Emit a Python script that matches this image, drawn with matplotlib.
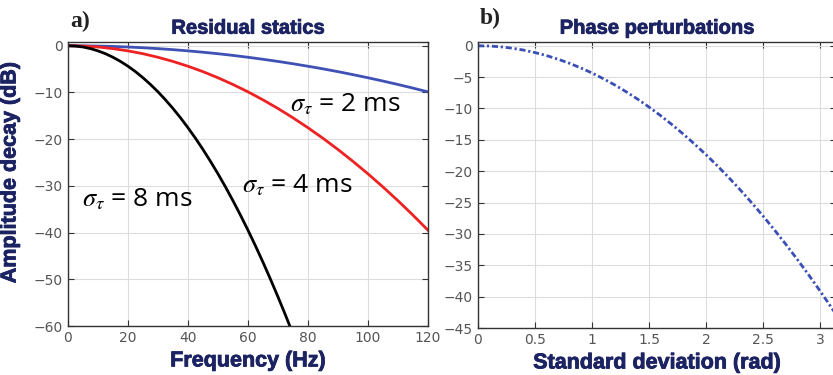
import matplotlib
matplotlib.use("Agg")
import matplotlib.pyplot as plt
import matplotlib.patheffects as pe

plt.rcParams['mathtext.fontset'] = 'stix'

# ---- data ----
freq = [0, 5, 10, 15, 20, 25, 30, 35, 40, 45, 50, 55, 60, 65, 70, 75, 80, 85, 90, 95, 100, 105, 110, 115, 120]
decay_2ms = [0, -0.02, -0.07, -0.15, -0.27, -0.43, -0.62, -0.84, -1.10, -1.39, -1.71, -2.07, -2.47, -2.90,
             -3.36, -3.86, -4.39, -4.95, -5.55, -6.19, -6.86, -7.56, -8.30, -9.07, -9.88]
decay_4ms = [0, -0.07, -0.27, -0.62, -1.10, -1.71, -2.47, -3.36, -4.39, -5.55, -6.86, -8.30, -9.87, -11.59,
             -13.44, -15.43, -17.56, -19.82, -22.22, -24.76, -27.43, -30.24, -33.19, -36.28, -39.50]
freq_8ms = [0, 2.5, 5, 7.5, 10, 12.5, 15, 17.5, 20, 22.5, 25, 27.5, 30, 32.5, 35, 37.5, 40, 42.5, 45, 47.5,
            50, 52.5, 55, 57.5, 60, 62.5, 65, 67.5, 70, 72.5, 75]
decay_8ms = [0, -0.07, -0.27, -0.62, -1.10, -1.71, -2.47, -3.36, -4.39, -5.55, -6.86, -8.30, -9.87, -11.59,
             -13.44, -15.43, -17.56, -19.82, -22.22, -24.76, -27.43, -30.24, -33.19, -36.28, -39.50, -42.86,
             -46.36, -50.00, -53.77, -57.68, -61.72]

sigma_rad = [0, 0.1, 0.2, 0.3, 0.4, 0.5, 0.6, 0.7, 0.8, 0.9, 1.0, 1.1, 1.2, 1.3, 1.4, 1.5, 1.6, 1.7, 1.8, 1.9,
             2.0, 2.1, 2.2, 2.3, 2.4, 2.5, 2.6, 2.7, 2.8, 2.9, 3.0, 3.1, 3.14]
decay_phase = [0, -0.04, -0.17, -0.39, -0.69, -1.09, -1.56, -2.13, -2.78, -3.52, -4.34, -5.26, -6.25, -7.34,
               -8.51, -9.77, -11.12, -12.55, -14.07, -15.68, -17.37, -19.15, -21.02, -22.97, -25.02, -27.14,
               -29.36, -31.66, -34.05, -36.52, -39.09, -41.74, -42.82]

left_xticks = [0, 20, 40, 60, 80, 100, 120]
left_yticks = [0, -10, -20, -30, -40, -50, -60]
right_xticks = [0, 0.5, 1, 1.5, 2, 2.5, 3]
right_xticklabels = ['0', '0.5', '1', '1.5', '2', '2.5', '3']
right_yticks = [0, -5, -10, -15, -20, -25, -30, -35, -40, -45]

navy = '#1c2362'
tickcol = '#555555'
heavy = [pe.withStroke(linewidth=0.6, foreground=navy)]

fig = plt.figure(figsize=(8.33, 3.75), dpi=100)
ax1 = fig.add_axes([68/833, 49/375, 360/833, 284/375])
ax2 = fig.add_axes([478/833, 47/375, 358/833, 286/375])


def style(ax):
    ax.grid(True, color='#dddddd', linewidth=0.8)
    ax.set_axisbelow(True)
    for s in ax.spines.values():
        s.set_color('#333333')
        s.set_linewidth(1.0)
    ax.tick_params(direction='in', top=True, right=True, colors='#333333', labelcolor=tickcol,
                   labelsize=10, length=4, width=0.8)


lab_kw = dict(fontsize=15.5, fontweight='heavy', color=navy, family='Liberation Sans', path_effects=heavy)
tit_kw = dict(fontsize=14.5, fontweight='heavy', color=navy, family='Liberation Sans', path_effects=heavy)

ax1.plot(freq, decay_2ms, color='#3f51b5', lw=2)
ax1.plot(freq, decay_4ms, color='#ee2222', lw=2)
ax1.plot(freq_8ms, decay_8ms, color='black', lw=2)
ax1.set_xlim(0, 120)
ax1.set_ylim(-60, 0.8)
ax1.set_xticks(left_xticks)
ax1.set_yticks(left_yticks)
ax1.set_yticklabels([f'{v:d}'.replace('-', '\u2212') for v in left_yticks])
style(ax1)
ax1.set_xlabel('Frequency (Hz)', labelpad=4, **lab_kw)
ax1.set_ylabel('Amplitude decay (dB)', labelpad=4, **lab_kw)
ax1.yaxis.set_label_coords(-0.132, 0.54)
ax1.set_title('Residual statics', pad=6, **tit_kw)

txt_kw = dict(fontsize=19, color='black', family='Open Sans', va='center', ha='left')
ax1.text(74, -12.5, r'$\sigma_{\tau}$ = 2 ms', **txt_kw)
ax1.text(58, -30.0, r'$\sigma_{\tau}$ = 4 ms', **txt_kw)
ax1.text(4.5, -33.0, r'$\sigma_{\tau}$ = 8 ms', **txt_kw)

ax2.plot(sigma_rad, decay_phase, color='#3a4fb5', lw=2.0, linestyle=(0, (2.2, 1.0, 0.8, 1.0)))
ax2.set_xlim(0, 3.14)
ax2.set_ylim(-45, 0.6)
ax2.set_xticks(right_xticks)
ax2.set_xticklabels(right_xticklabels)
ax2.set_yticks(right_yticks)
ax2.set_yticklabels([f'{v:d}'.replace('-', '\u2212') for v in right_yticks])
style(ax2)
ax2.set_xlabel('Standard deviation (rad)', labelpad=4, **lab_kw)
ax2.set_title('Phase perturbations', pad=6, **tit_kw)

fig.text(70/833, 1 - 21/375, 'a)', fontsize=17, fontweight='bold', family='Liberation Serif', va='center', ha='left', color='#222222')
fig.text(480/833, 1 - 18/375, 'b)', fontsize=17, fontweight='bold', family='Liberation Serif', va='center', ha='left', color='#222222')

fig.savefig('out.png', dpi=100)
